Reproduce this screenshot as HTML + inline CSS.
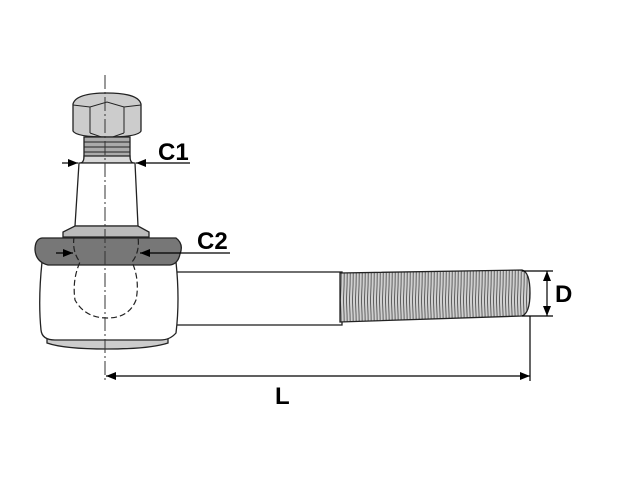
<!DOCTYPE html>
<html><head><style>body{margin:0;background:#fff}svg{display:block}</style></head><body>
<svg width="642" height="500" viewBox="0 0 642 500" xmlns="http://www.w3.org/2000/svg" font-family="Liberation Sans, sans-serif">
<defs>
<marker id="a" markerWidth="10" markerHeight="8" refX="10" refY="4" orient="auto" markerUnits="userSpaceOnUse"><path d="M0,0 L10,4 L0,8z" fill="#000"/></marker>
<pattern id="th" width="3" height="60" patternUnits="userSpaceOnUse"><rect width="3" height="60" fill="#d0d0d0"/><path d="M1.5,0 Q3,30 1.5,60" stroke="#444" stroke-width="0.8" fill="none"/></pattern>
</defs>
<g stroke="#222" stroke-width="1.3">
<rect x="170" y="272" width="172" height="53" fill="#fff"/>
<path d="M340,273 L522,270 Q530,272 530,293 Q530,313 522,316 L340,322 Z" fill="url(#th)"/>
<path d="M73,104 Q76,93 107,93 Q138,93 141,104 L141,131 Q138,137 107,137 Q76,137 73,131 Z" fill="#ccc"/>
<path d="M73,105 L90,107 L107,102 L124,107 L141,105 M90,107 L90,133 M124,107 L124,133 M90,133 L107,139 L124,133" fill="none" stroke-width="1"/>
<rect x="84" y="137" width="46" height="21" fill="#aaa"/>
<path d="M84,142 H130 M84,147 H130 M84,152 H130" stroke-width="1"/>
<path d="M84,156 Q84,163 80,163 L134,163 Q130,163 130,156 Z" fill="#d8d8d8"/>
<path d="M79,163 L135,163 L138,226 L75,226 Z" fill="#fff"/>
<path d="M75,226 L138,226 L149,232 L149,237 L63,237 L63,232 Z" fill="#bbb"/>
<path d="M47,335 L168,335 L168,343 Q150,349 107,349 Q64,349 47,343 Z" fill="#ccc"/>
<path d="M42,262 L176,262 Q180,300 176,333 Q170,340 160,340 L55,340 Q42,340 41,330 Q38,300 42,262 Z" fill="#fff"/>
<path d="M42,238 L176,238 Q184,244 180,254 Q178,264 170,265 L48,265 Q36,262 35,250 Q35,239 42,238 Z" fill="#777"/>
</g>
<path d="M74,237 Q72,252 80,262 Q72,280 75,300 Q85,318 107,318 Q129,318 136,300 Q140,280 132,262 Q140,252 138,237" fill="none" stroke="#222" stroke-width="1.2" stroke-dasharray="6,3"/>
<line x1="105" y1="75" x2="105" y2="382" stroke="#333" stroke-width="1" stroke-dasharray="14,3,2,3"/>
<g stroke="#000" stroke-width="1.2" fill="none">
<line x1="62" y1="163" x2="78" y2="163" marker-end="url(#a)"/>
<line x1="190" y1="163" x2="136" y2="163" marker-end="url(#a)"/>
<line x1="56" y1="253" x2="73" y2="253" marker-end="url(#a)"/>
<line x1="230" y1="253" x2="140" y2="253" marker-end="url(#a)"/>
<line x1="522" y1="271" x2="553" y2="271"/>
<line x1="522" y1="316" x2="553" y2="316"/>
<line x1="547" y1="294" x2="547" y2="271" marker-end="url(#a)"/>
<line x1="547" y1="294" x2="547" y2="316" marker-end="url(#a)"/>
<line x1="530" y1="316" x2="530" y2="381"/>
<line x1="300" y1="376" x2="106" y2="376" marker-end="url(#a)"/>
<line x1="300" y1="376" x2="530" y2="376" marker-end="url(#a)"/>
</g>
<g font-weight="bold" font-size="24" fill="#000">
<text x="158" y="160">C1</text>
<text x="197" y="249">C2</text>
<text x="555" y="302">D</text>
<text x="275" y="404">L</text>
</g>
</svg>
</body></html>
